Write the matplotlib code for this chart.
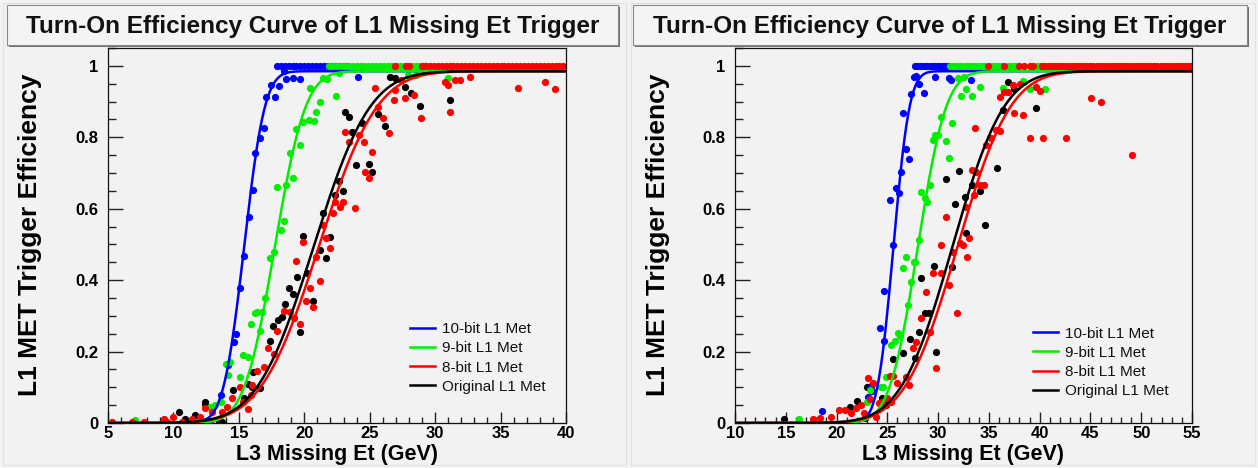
import math
import numpy as np
import matplotlib
matplotlib.use('Agg')
import matplotlib.pyplot as plt
from matplotlib.patches import Rectangle
from matplotlib.ticker import MultipleLocator

plt.rcParams['font.family'] = ['Liberation Sans', 'DejaVu Sans']

W, H = 1258, 468
BG = '#f2f2f2'

TITLE = 'Turn-On Efficiency Curve of L1 Missing Et Trigger'
XLABEL = 'L3 Missing Et (GeV)'
YLABEL = 'L1 MET Trigger Efficiency'
LABELS = ['10-bit L1 Met', '9-bit L1 Met', '8-bit L1 Met', 'Original L1 Met']
COLORS = ['#0000ff', '#00ee00', '#ff0000', '#000000']

# ---------------- left panel data ----------------
left_blue_x = [11.4, 12.5, 12.7, 13.65, 14.2, 14.6, 14.8, 15.1, 15.36, 15.74,
               16.07, 16.2, 16.63, 16.89, 17.09, 17.45, 17.78, 18.1, 18.42, 18.62,
               19.13, 19.69, 24.1]
left_blue_y = [0.004, 0.007, 0.006, 0.078, 0.162, 0.226, 0.25, 0.378, 0.468, 0.578,
               0.652, 0.755, 0.797, 0.827, 0.913, 0.946, 0.913, 0.944, 0.985, 0.963,
               0.967, 0.963, 0.97]
left_blue_one = [17.9, 18.2, 18.5, 18.8, 19.1, 19.4, 19.7, 20.0, 20.3, 20.6,
                 20.9, 21.2, 21.5, 21.8, 22.1, 22.4, 22.7, 23.0, 23.3]

left_green_x = [7.1, 11.8, 12.8, 13.2, 13.6, 14.0, 14.14, 14.35, 15.1, 15.3,
                15.69, 15.94, 16.2, 16.38, 16.63, 16.76, 17.0, 17.4, 17.65, 18.21,
                18.42, 17.91, 18.62, 19.13, 18.93, 19.69, 19.38, 19.89, 20.33, 20.71,
                20.91, 21.17, 20.4, 21.42, 21.73, 22.44, 22.62, 27.9, 28.5, 31.0]
left_green_y = [0.008, 0.003, 0.045, 0.05, 0.06, 0.164, 0.134, 0.17, 0.13, 0.19,
                0.186, 0.276, 0.307, 0.312, 0.258, 0.312, 0.349, 0.463, 0.478, 0.54,
                0.565, 0.662, 0.666, 0.687, 0.755, 0.778, 0.823, 0.843, 0.848, 0.845,
                0.871, 0.899, 0.939, 0.967, 0.963, 0.916, 0.981, 0.974, 0.974, 0.965]
left_green_one = [21.9, 22.2, 22.5, 22.8, 23.1, 23.4, 23.7, 24.0, 24.3, 24.6,
                  24.9, 25.2, 25.5, 25.8, 26.1, 26.4, 26.7, 27.0, 27.3, 27.6,
                  28.2, 28.5, 28.8, 29.1]

left_red_x = [5.3, 6.83, 7.72, 9.25, 9.5, 10.0, 10.65, 11.4, 12.05, 12.43,
              12.94, 13.7, 14.1, 14.5, 15.1, 15.28, 15.69, 15.94, 16.0, 16.38,
              16.94, 17.19, 17.65, 17.91, 18.42, 18.93, 19.18, 19.64, 19.38, 19.89,
              20.15, 20.4, 20.66, 21.17, 20.91, 21.42, 21.68, 21.93, 22.19, 22.36,
              22.7, 22.95, 23.89, 23.13, 23.38, 24.15, 24.58, 25.16, 24.65, 24.91,
              25.42, 25.67, 26.0, 26.44, 26.82, 26.95, 27.41, 27.66, 28.35, 28.94,
              30.72, 30.97, 31.15, 31.48, 31.92, 32.68, 36.37, 38.41, 39.17]
left_red_y = [0.004, 0.002, 0.004, 0.011, 0.004, 0.018, 0.004, 0.011, 0.018, 0.043,
              0.032, 0.03, 0.046, 0.069, 0.1, 0.06, 0.039, 0.078, 0.107, 0.146,
              0.158, 0.209, 0.192, 0.258, 0.314, 0.31, 0.293, 0.276, 0.454, 0.506,
              0.342, 0.377, 0.326, 0.398, 0.466, 0.554, 0.519, 0.489, 0.587, 0.62,
              0.606, 0.62, 0.603, 0.815, 0.786, 0.806, 0.786, 0.758, 0.702, 0.687,
              0.939, 0.885, 0.855, 0.811, 0.904, 0.932, 0.96, 0.911, 0.918, 0.853,
              0.955, 0.946, 0.87, 0.96, 0.96, 0.97, 0.939, 0.955, 0.934]
left_red_one = [26.9, 27.75, 28.0, 29.0, 29.3, 29.6, 29.9, 30.2, 30.5, 30.8,
                31.1, 31.4, 31.7, 32.0, 32.3, 32.6, 32.9, 33.2, 33.5, 33.8,
                34.1, 34.4, 34.7, 35.0, 35.3, 35.6, 35.9, 36.2, 36.5, 36.8,
                37.1, 37.4, 37.7, 38.0, 38.3, 38.6, 38.9, 39.2, 39.5, 39.8]

left_black_x = [10.44, 10.9, 11.66, 12.38, 12.45, 13.52, 13.7, 14.57, 15.36, 15.69,
                16.0, 16.1, 16.63, 17.35, 17.6, 18.0, 18.29, 18.54, 18.87, 19.13,
                19.64, 19.44, 19.89, 20.2, 20.66, 21.17, 21.68, 21.93, 21.42, 22.36,
                22.62, 22.95, 23.13, 23.38, 23.64, 23.97, 24.4, 24.91, 25.16, 25.67,
                26.18, 26.57, 26.95, 27.66, 28.17, 28.86, 31.15]
left_black_y = [0.03, 0.011, 0.023, 0.052, 0.06, 0.004, 0.004, 0.092, 0.069, 0.11,
                0.102, 0.144, 0.099, 0.23, 0.273, 0.288, 0.298, 0.332, 0.377, 0.36,
                0.256, 0.41, 0.524, 0.419, 0.342, 0.484, 0.461, 0.522, 0.587, 0.638,
                0.677, 0.65, 0.87, 0.857, 0.814, 0.722, 0.839, 0.724, 0.702, 0.864,
                0.832, 0.97, 0.967, 0.94, 0.923, 0.888, 0.904]

# fitted turn-on parameters (plateau, mean, sigma) per series
left_fits = [(0.985, 15.4, 1.25), (0.985, 17.75, 1.85),
             (0.985, 21.1, 3.5), (0.985, 20.7, 3.4)]

# ---------------- right panel data ----------------
right_blue_x = [18.6, 23.09, 23.4, 23.5, 24.25, 24.65, 24.65, 25.55, 25.3, 25.87,
                26.1, 26.3, 26.86, 27.09, 26.53, 27.35, 27.61, 27.84, 28.07, 28.6,
                29.65, 31.03, 31.29, 33.26]
right_blue_y = [0.034, 0.074, 0.105, 0.09, 0.266, 0.23, 0.371, 0.498, 0.624, 0.659,
                0.643, 0.702, 0.767, 0.739, 0.867, 0.92, 0.969, 0.972, 0.948, 0.923,
                0.969, 0.967, 0.96, 0.96]
right_blue_one = [27.7, 27.95, 28.2, 28.45, 28.7, 28.95, 29.2, 29.45, 29.7, 29.95,
                  30.2, 30.45, 30.7, 30.95]

right_green_x = [16.3, 23.0, 23.25, 24.4, 24.56, 24.89, 25.32, 25.71, 26.04, 26.2,
                 26.53, 26.86, 27.02, 27.35, 27.61, 27.74, 28.07, 28.27, 28.66, 28.93,
                 29.16, 29.48, 29.71, 29.98, 30.3, 30.8, 31.12, 31.35, 31.94, 32.27,
                 32.76, 33.32, 32.53, 34.08, 36.37, 38.34, 38.5, 39.0, 40.48]
right_green_y = [0.012, 0.06, 0.093, 0.1, 0.102, 0.13, 0.218, 0.23, 0.251, 0.245,
                 0.433, 0.466, 0.33, 0.396, 0.45, 0.45, 0.512, 0.648, 0.629, 0.62,
                 0.666, 0.792, 0.806, 0.806, 0.857, 0.789, 0.743, 0.839, 0.965, 0.916,
                 0.935, 0.916, 0.969, 0.941, 0.939, 0.957, 0.955, 0.935, 0.935]
right_green_one = [31.2, 31.5, 31.8, 32.1, 32.4, 32.7, 33.0, 33.3, 33.6, 33.9,
                   34.2, 34.5, 35.1, 35.4, 35.7, 36.0, 36.3, 36.9, 37.2, 37.5,
                   37.8, 39.7, 40.0]

right_red_x = [17.67, 18.4, 19.48, 20.23, 20.79, 21.45, 21.87, 22.43, 22.66, 23.09,
               23.58, 23.32, 23.84, 24.2, 24.5, 25.0, 25.22, 25.55, 25.97, 26.86,
               27.09, 25.38, 27.51, 27.84, 28.27, 28.83, 29.16, 29.81, 29.48, 30.24,
               30.3, 30.8, 31.12, 31.88, 31.45, 32.11, 32.44, 32.86, 32.76, 33.09,
               33.32, 33.58, 33.75, 34.08, 34.5, 34.73, 35.23, 35.72, 36.14, 33.65,
               36.05, 36.47, 36.93, 37.36, 37.52, 38.02, 38.34, 39.6, 39.99, 39.07,
               40.32, 42.55, 45.08, 46.06, 49.11]
right_red_y = [0.012, 0.015, 0.018, 0.037, 0.037, 0.027, 0.041, 0.05, 0.027, 0.127,
               0.111, 0.067, 0.018, 0.055, 0.06, 0.07, 0.133, 0.133, 0.111, 0.13,
               0.106, 0.06, 0.209, 0.228, 0.293, 0.368, 0.254, 0.153, 0.419, 0.419,
               0.498, 0.578, 0.386, 0.307, 0.48, 0.503, 0.498, 0.466, 0.606, 0.517,
               0.708, 0.638, 0.703, 0.666, 0.666, 0.778, 0.797, 0.82, 0.817, 0.827,
               0.913, 0.926, 0.926, 0.946, 0.867, 0.948, 0.862, 0.941, 0.929, 0.799,
               0.799, 0.799, 0.909, 0.9, 0.75]
right_red_one = [34.9, 36.5, 38.0, 38.5, 39.0, 39.3, 40.2, 40.5, 40.8, 41.1,
                 41.4, 41.7, 42.0, 42.3, 42.6, 42.9, 43.2, 43.5, 43.8, 44.1,
                 44.4, 44.7, 45.0, 45.3, 45.6, 45.9, 46.2, 46.5, 46.8, 47.1,
                 47.4, 47.7, 48.0, 48.3, 48.6, 48.9, 49.2, 49.5, 49.8, 50.1,
                 50.4, 50.7, 51.0, 51.3, 51.6, 51.9, 52.2, 52.5, 52.8, 53.1,
                 53.4, 53.7, 54.0, 54.3, 54.6, 54.9]

right_black_x = [14.79, 21.35, 22.0, 22.76, 22.99, 24.5, 24.9, 25.55, 26.53, 27.28,
                 27.68, 28.07, 28.34, 28.66, 29.06, 29.58, 29.81, 30.8, 31.35, 31.62,
                 32.01, 32.76, 32.66, 33.32, 34.08, 34.57, 35.82, 36.37, 36.86, 37.46,
                 39.6]
right_black_y = [0.012, 0.046, 0.062, 0.015, 0.102, 0.07, 0.05, 0.179, 0.197, 0.235,
                 0.181, 0.256, 0.405, 0.307, 0.307, 0.44, 0.2, 0.683, 0.438, 0.612,
                 0.705, 0.531, 0.634, 0.666, 0.65, 0.554, 0.713, 0.876, 0.954, 0.935,
                 0.883]

right_fits = [(0.985, 25.6, 1.25), (0.985, 28.0, 2.2),
              (0.985, 31.9, 4.1), (0.985, 31.4, 4.0)]


def turn_on(x, plateau, mean, sigma):
    # error-function turn-on used for the fits
    return np.array([plateau * 0.5 * (1.0 + math.erf((v - mean) / (math.sqrt(2.0) * sigma)))
                     for v in x])


def fx(px):
    return px / W


def fy(py):
    return 1.0 - py / H


fig = plt.figure(figsize=(W / 100, H / 100), dpi=100, facecolor=BG)

# pad borders and title boxes
for x0, x1 in [(3, 626), (631, 1255)]:
    fig.add_artist(Rectangle((fx(x0), fy(465)), fx(x1 - x0), (462) / H,
                             transform=fig.transFigure, facecolor='none',
                             edgecolor='#e2e2e2', lw=0.8))
for x0, x1 in [(7, 618), (633, 1247)]:
    fig.add_artist(Rectangle((fx(x0 + 2), fy(47)), fx(x1 - x0), 40 / H,
                             transform=fig.transFigure, facecolor='#707070',
                             edgecolor='none'))
    fig.add_artist(Rectangle((fx(x0), fy(45)), fx(x1 - x0), 40 / H,
                             transform=fig.transFigure, facecolor='#f4f4f4',
                             edgecolor='#8a8a8a', lw=0.8))
    fig.text(fx((x0 + x1) / 2), fy(26), TITLE, ha='center', va='center',
             fontsize=17.5, fontweight='bold', color='#111111')


def draw_panel(rect, xlim, pts, ones, fits, leg_anchor):
    ax = fig.add_axes(rect, facecolor=BG)
    # scatter: original first, then 10, 9, 8 bit
    order = [3, 0, 1, 2]
    for i in order:
        xs, ys = pts[i]
        ax.plot(xs, ys, 'o', ms=5.2, color=COLORS[i], mec='none', zorder=2)
        if ones[i]:
            ax.plot(ones[i], np.ones(len(ones[i])), 'o', ms=5.2, color=COLORS[i],
                    mec='none', zorder=2)
    xx = np.linspace(xlim[0], xlim[1], 500)
    handles = []
    for i in range(4):
        ln, = ax.plot(xx, turn_on(xx, *fits[i]), '-', color=COLORS[i], lw=1.8,
                      label=LABELS[i], zorder=3)
        handles.append(ln)
    ax.set_xlim(*xlim)
    ax.set_ylim(0, 1.05)
    ax.xaxis.set_major_locator(MultipleLocator(5))
    ax.xaxis.set_minor_locator(MultipleLocator(1))
    ax.yaxis.set_major_locator(MultipleLocator(0.2))
    ax.yaxis.set_minor_locator(MultipleLocator(0.05))
    ax.set_yticks([0, 0.2, 0.4, 0.6, 0.8, 1.0])
    ax.set_yticklabels(['0', '0.2', '0.4', '0.6', '0.8', '1'])
    ax.tick_params(axis='both', which='both', direction='in', top=False, right=False,
                   width=1.0, colors='#222222', labelcolor='black')
    ax.tick_params(axis='y', which='major', length=11, pad=7)
    ax.tick_params(axis='y', which='minor', length=6)
    ax.tick_params(axis='x', which='major', length=8, pad=2)
    ax.tick_params(axis='x', which='minor', length=4)
    for lab in ax.get_xticklabels() + ax.get_yticklabels():
        lab.set_fontweight('bold')
        lab.set_fontsize(12)
    for s in ax.spines.values():
        s.set_linewidth(0.9)
        s.set_color('#111111')
    ax.text(0.5, -0.085, XLABEL, transform=ax.transAxes, ha='center', va='center',
            fontsize=15.5, fontweight='bold')
    leg = ax.legend(handles=handles, loc='upper left', bbox_to_anchor=leg_anchor,
                    frameon=False, fontsize=11, handlelength=1.65,
                    handletextpad=0.45, labelspacing=0.34, borderpad=0,
                    borderaxespad=0)
    for t in leg.get_texts():
        t.set_color('#111111')
    return ax


ax_l = draw_panel([fx(108), fy(423), fx(566 - 108), 375 / H], (5, 40),
                  [(left_blue_x, left_blue_y), (left_green_x, left_green_y),
                   (left_red_x, left_red_y), (left_black_x, left_black_y)],
                  [left_blue_one, left_green_one, left_red_one, None],
                  left_fits, (0.659, 0.269))
ax_r = draw_panel([fx(735), fy(423), fx(1192 - 735), 375 / H], (10, 55),
                  [(right_blue_x, right_blue_y), (right_green_x, right_green_y),
                   (right_red_x, right_red_y), (right_black_x, right_black_y)],
                  [right_blue_one, right_green_one, right_red_one, None],
                  right_fits, (0.652, 0.257))

fig.text(fx(30), fy(235), YLABEL, rotation=90, ha='center', va='center',
         fontsize=19, fontweight='bold')
fig.text(fx(658), fy(235), YLABEL, rotation=90, ha='center', va='center',
         fontsize=19, fontweight='bold')

fig.savefig('out.png', dpi=100, facecolor=BG)
